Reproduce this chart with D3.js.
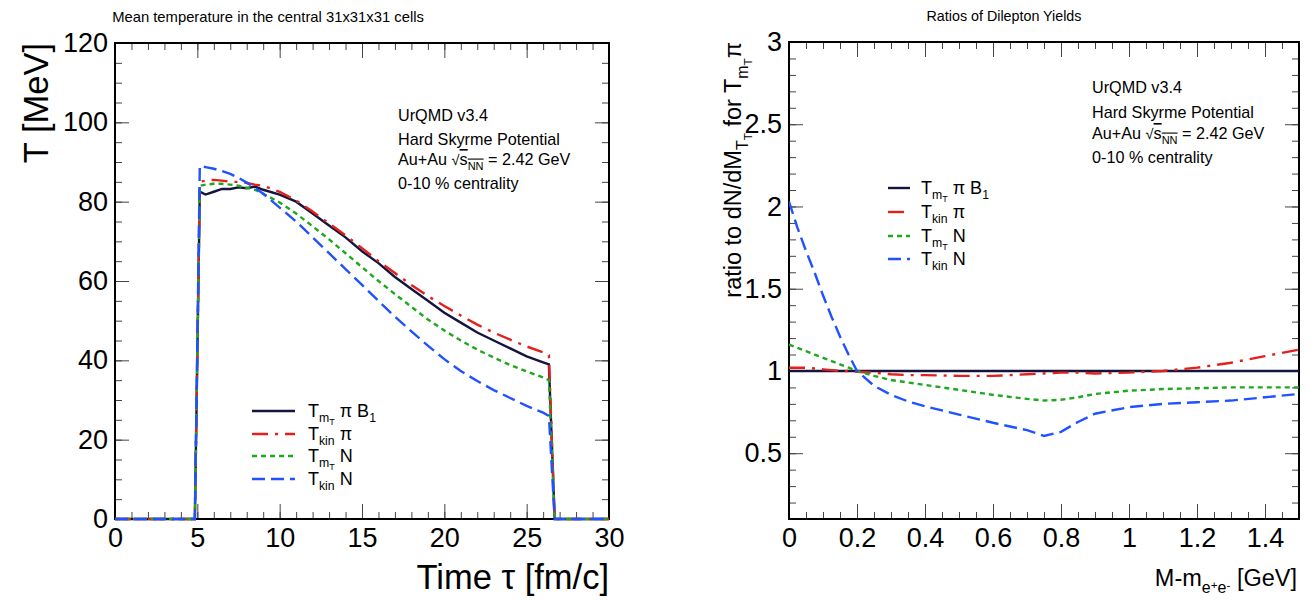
<!DOCTYPE html>
<html lang="en">
<head>
<meta charset="UTF-8">
<title>UrQMD temperature and dilepton ratios</title>
<script src="https://d3js.org/d3.v7.min.js"></script>
<style>
  body { margin: 0; background: #fff; }
  svg { font-family: "Liberation Sans", Arial, sans-serif; }
</style>
</head>
<body>
<svg id="chart" width="1316" height="601"></svg>
<script>
// ---- left panel: mean temperature vs time (MeV vs fm/c)
const tau = [0, 1, 2, 3, 4, 4.85, 5.15, 5.5, 6, 6.5, 7, 7.5, 8, 8.5, 9, 10, 11, 12, 13, 14, 15, 16, 17, 18, 19, 20, 21, 22, 23, 24, 25, 26, 26.35, 26.7, 27, 28, 29, 30];
const tempMtPiB1 = [0, 0, 0, 0, 0, 0, 82.5, 81.8, 82.5, 83.2, 83.2, 83.6, 83.4, 83.8, 83, 81.8, 80, 77, 74, 71, 67.5, 64.5, 61, 58, 55, 52, 49.5, 47, 45, 43, 41, 39.5, 39, 0, 0, 0, 0, 0];
const tempKinPi  = [0, 0, 0, 0, 0, 0, 85, 85.3, 85.5, 85.3, 85, 85, 84.7, 84.3, 84, 82.5, 80.3, 77.5, 74.5, 71.5, 68.3, 65, 62, 59, 56.2, 53.7, 51.3, 49, 47, 45.2, 43.5, 42, 41.3, 0, 0, 0, 0, 0];
const tempMtN    = [0, 0, 0, 0, 0, 0, 84, 84.3, 84.5, 84.5, 84.3, 84, 83.5, 83, 82, 79.8, 77, 73.8, 70.5, 67, 63.5, 60, 56.7, 53.5, 50.3, 47.5, 45, 42.7, 40.7, 38.8, 37.2, 35.7, 35, 0, 0, 0, 0, 0];
const tempKinN   = [0, 0, 0, 0, 0, 0, 89, 88.7, 88.3, 87.7, 87, 86, 84.8, 83.5, 82, 78.5, 75, 71, 67, 63, 59, 55, 51, 47.3, 43.7, 40.3, 37.3, 34.8, 32.5, 30.5, 28.5, 26.8, 26, 0, 0, 0, 0, 0];
const tauTicks = [0, 5, 10, 15, 20, 25, 30];
const tempTicks = [0, 20, 40, 60, 80, 100, 120];

// ---- right panel: ratio of dilepton yields vs M - m_ee (GeV)
const mass = [0, 0.025, 0.05, 0.075, 0.1, 0.125, 0.15, 0.175, 0.2, 0.25, 0.3, 0.35, 0.4, 0.5, 0.6, 0.7, 0.75, 0.8, 0.85, 0.9, 1.0, 1.1, 1.2, 1.3, 1.4, 1.5];
const ratioMtPiB1 = [1, 1, 1, 1, 1, 1, 1, 1, 1, 1, 1, 1, 1, 1, 1, 1, 1, 1, 1, 1, 1, 1, 1, 1, 1, 1];
const ratioKinPi  = [1.02, 1.02, 1.02, 1.015, 1.01, 1.005, 1.0, 1.0, 0.995, 0.99, 0.98, 0.975, 0.975, 0.97, 0.97, 0.98, 0.985, 0.99, 0.99, 0.985, 0.99, 1.0, 1.02, 1.05, 1.09, 1.13];
const ratioMtN    = [1.16, 1.14, 1.12, 1.1, 1.08, 1.06, 1.04, 1.02, 1.0, 0.97, 0.945, 0.93, 0.915, 0.885, 0.855, 0.83, 0.82, 0.825, 0.84, 0.86, 0.88, 0.89, 0.895, 0.9, 0.9, 0.9];
const ratioKinN   = [2.03, 1.87, 1.73, 1.6, 1.46, 1.33, 1.21, 1.1, 1.0, 0.91, 0.855, 0.815, 0.785, 0.735, 0.685, 0.64, 0.605, 0.63, 0.69, 0.74, 0.78, 0.8, 0.81, 0.82, 0.84, 0.86];
const massTicks = [0, 0.2, 0.4, 0.6, 0.8, 1, 1.2, 1.4];
const ratioTicks = [0.5, 1, 1.5, 2, 2.5, 3];

// legend labels as [text, level] pieces: 0 normal, 1 subscript, 2 sub-sub, 3 raised inside subscript
const labels = [
  [["T", 0], ["m", 1], ["T", 2], [" \u03c0 B", 0], ["1", 1]],
  [["T", 0], ["kin", 1], [" \u03c0", 0]],
  [["T", 0], ["m", 1], ["T", 2], [" N", 0]],
  [["T", 0], ["kin", 1], [" N", 0]]
];
const colors = ["#14143c", "#e3201c", "#1ea81e", "#2052ff"];
const dashes = [null, "16,7,3,7", "5,4", "13,6"];

const svg = d3.select("#chart");

function rich(sel, parts, fs) {
  let cur = 0;
  parts.forEach(([t, lvl]) => {
    const off = [0, 0.28, 0.45, 0.12][lvl] * fs;
    const size = [1, 0.68, 0.5, 0.5][lvl] * fs;
    sel.append("tspan").attr("dy", off - cur).attr("font-size", size).text(t);
    cur = off;
  });
}

function frame(g, x, y, o) {
  const [x0, x1] = x.range(), [y0, y1] = y.range();
  const add = (axis, tx, ty, keep) => {
    const a = g.append("g").attr("transform", `translate(${tx},${ty})`).call(axis);
    a.select(".domain").remove();
    a.selectAll("line").attr("stroke", "#444").attr("stroke-width", 1);
    if (!keep) a.selectAll("text").remove();
    else a.selectAll("text").attr("font-size", o.tickFont).attr("fill", "#000");
    a.attr("font-family", null);
  };
  add(d3.axisBottom(x).tickValues(o.xMinor).tickSize(-7), 0, y0, false);
  add(d3.axisBottom(x).tickValues(o.xMajor).tickSize(-15).tickPadding(9).tickFormat(String), 0, y0, true);
  add(d3.axisTop(x).tickValues(o.xMinor).tickSize(-7), 0, y1, false);
  add(d3.axisTop(x).tickValues(o.xMajor).tickSize(-15), 0, y1, false);
  add(d3.axisLeft(y).tickValues(o.yMinor).tickSize(-7), x0, 0, false);
  add(d3.axisLeft(y).tickValues(o.yMajor).tickSize(-14).tickPadding(7).tickFormat(String), x0, 0, true);
  add(d3.axisRight(y).tickValues(o.yMinor).tickSize(-7), x1, 0, false);
  add(d3.axisRight(y).tickValues(o.yMajor).tickSize(-14), x1, 0, false);
  g.append("rect").attr("x", x0).attr("y", y1).attr("width", x1 - x0).attr("height", y0 - y1)
    .attr("fill", "none").attr("stroke", "#000").attr("stroke-width", 2);
}

function curves(g, x, y, xs, series, id) {
  const [x0, x1] = x.range(), [y0, y1] = y.range();
  svg.append("clipPath").attr("id", id).append("rect")
    .attr("x", x0).attr("y", y1 - 2).attr("width", x1 - x0).attr("height", y0 - y1 + 4);
  const line = d3.line().x((d, i) => x(xs[i])).y(d => y(d));
  series.forEach((s, i) => {
    g.append("path").datum(s).attr("clip-path", `url(#${id})`)
      .attr("fill", "none").attr("stroke", colors[i]).attr("stroke-width", 2.4)
      .attr("stroke-dasharray", dashes[i]).attr("d", line);
  });
}

function legend(g, x0, x1, tx, rows, fs) {
  rows.forEach((cy, i) => {
    g.append("line").attr("x1", x0).attr("x2", x1).attr("y1", cy).attr("y2", cy)
      .attr("stroke", colors[i]).attr("stroke-width", 2.4).attr("stroke-dasharray", dashes[i]);
    const t = g.append("text").attr("x", tx).attr("y", cy + fs * 0.35).attr("font-size", fs);
    rich(t, labels[i], fs);
  });
}

function note(g, x, ys, fs) {
  const lines = ["UrQMD v3.4", "Hard Skyrme Potential", null, "0-10 % centrality"];
  lines.forEach((s, i) => {
    const t = g.append("text").attr("x", x).attr("y", ys[i]).attr("font-size", fs);
    if (s) { t.text(s); return; }
    t.append("tspan").text("Au+Au ");
    t.append("tspan").attr("font-size", fs * 0.9).text("\u221a");
    t.append("tspan").style("text-decoration", "overline").text("s");
    t.append("tspan").style("text-decoration", "overline").attr("font-size", fs * 0.68).attr("dy", fs * 0.28).text("NN");
    t.append("tspan").attr("dy", -fs * 0.28).text(" = 2.42 GeV");
  });
}

// ---------------- left panel
const xL = d3.scaleLinear().domain([0, 30]).range([115, 609]);
const yL = d3.scaleLinear().domain([0, 120]).range([519, 43]);
const gL = svg.append("g");
frame(gL, xL, yL, {
  xMajor: tauTicks, xMinor: d3.range(0, 30.01, 1),
  yMajor: tempTicks, yMinor: d3.range(0, 120.01, 5), tickFont: 27
});
curves(gL, xL, yL, tau, [tempMtPiB1, tempKinPi, tempMtN, tempKinN], "clipL");
gL.append("text").attr("x", 268).attr("y", 22).attr("text-anchor", "middle").attr("font-size", 14.8)
  .text("Mean temperature in the central 31x31x31 cells");
gL.append("text").attr("x", 609).attr("y", 589).attr("text-anchor", "end").attr("font-size", 34.5)
  .text("Time \u03c4 [fm/c]");
gL.append("text").attr("transform", "translate(48,43) rotate(-90)").attr("text-anchor", "end")
  .attr("font-size", 34.5).text("T [MeV]");
note(gL, 398, [121, 145, 165, 189], 16.2);
legend(gL, 252, 295, 308, [411, 434, 456, 479], 18);

// ---------------- right panel
const xR = d3.scaleLinear().domain([0, 1.5]).range([789, 1299]);
const yR = d3.scaleLinear().domain([0.1, 3]).range([519, 42]);
const gR = svg.append("g");
frame(gR, xR, yR, {
  xMajor: massTicks, xMinor: d3.range(0, 1.5001, 0.05),
  yMajor: ratioTicks, yMinor: d3.range(0.1, 3.0001, 0.1), tickFont: 27
});
curves(gR, xR, yR, mass, [ratioMtPiB1, ratioKinPi, ratioMtN, ratioKinN], "clipR");
gR.append("text").attr("x", 1004).attr("y", 21).attr("text-anchor", "middle").attr("font-size", 14.3)
  .text("Ratios of Dilepton Yields");
const xt = gR.append("text").attr("x", 1297).attr("y", 586).attr("text-anchor", "end").attr("font-size", 23.5);
rich(xt, [["M-m", 0], ["e", 1], ["+", 3], ["e", 1], ["-", 3], [" [GeV]", 0]], 23.5);
const yt = gR.append("text").attr("transform", "translate(741,42) rotate(-90)").attr("text-anchor", "end").attr("font-size", 23.5);
rich(yt, [["ratio to dN/dM", 0], ["T", 1], ["T", 2], [" for T", 0], ["m", 1], ["T", 2], ["\u03c0", 0]], 23.5);
note(gR, 1092, [93, 118, 139, 163], 16.2);
legend(gR, 888, 910, 921, [188, 212, 236, 259], 18);
</script>
</body>
</html>
